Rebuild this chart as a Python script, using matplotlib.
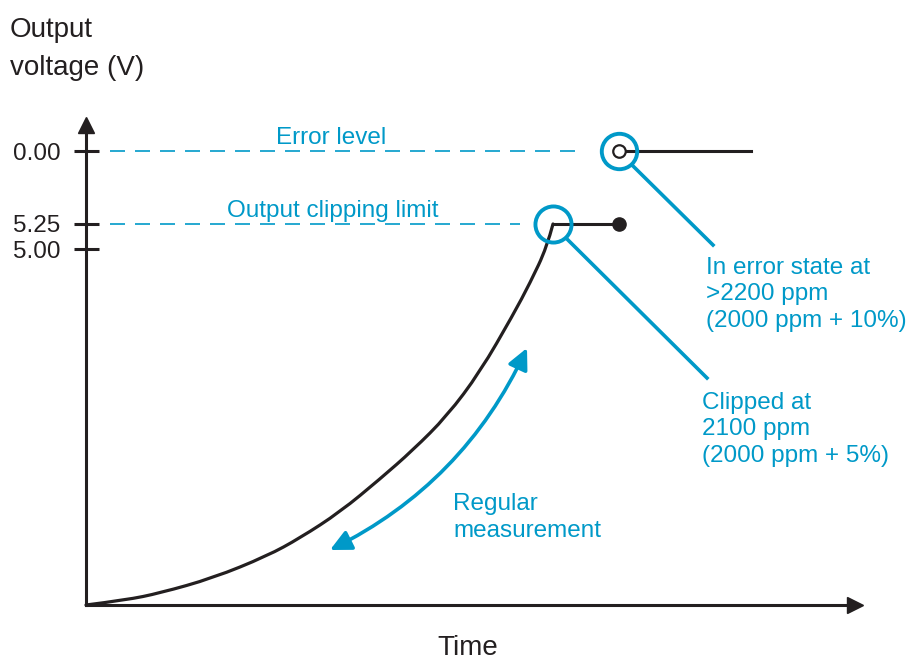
import matplotlib
matplotlib.use("Agg")
import matplotlib.pyplot as plt
from matplotlib.path import Path
from matplotlib.patches import PathPatch
import numpy as np

plt.rcParams['font.family'] = ['Liberation Sans', 'DejaVu Sans']

# ---- data (schematic drawing units) ----
time = [0, 40, 74, 127, 181, 214, 254, 294, 327, 361, 394, 427, 444, 461, 467]
signal = [0, 5, 12, 27, 49, 67, 93, 126, 155, 189, 233, 290, 322, 358, 381]

error_level = 454
clip_level = 381
tick_positions = [454, 381, 356]
tick_labels = ["0.00", "5.25", "5.00"]

clip_end_time = 533
error_start_time = 533
error_end_time = 665

BLACK = "#231F20"
BLUE = "#0099C8"

fig = plt.figure(figsize=(9.2, 6.6), dpi=100)
ax = fig.add_axes([0, 0, 1, 1])
ax.set_xlim(-86, 834)
ax.set_ylim(-55, 605)
ax.set_facecolor("white")

# axes as arrows
for s in ["top", "right"]:
    ax.spines[s].set_visible(False)
ax.spines["left"].set_position(("data", 0))
ax.spines["bottom"].set_position(("data", 0))
ax.spines["left"].set_bounds(0, 478)
ax.spines["bottom"].set_bounds(0, 766)
for s in ["left", "bottom"]:
    ax.spines[s].set_linewidth(2.2)
    ax.spines[s].set_color(BLACK)
ax.plot([0], [480], marker="^", markersize=11.5, color=BLACK, clip_on=False)
ax.plot([769], [0], marker=">", markersize=11.5, color=BLACK, clip_on=False)

ax.set_xticks([])
ax.set_yticks(tick_positions)
ax.set_yticklabels(tick_labels)
ax.tick_params(axis="y", direction="inout", length=18, width=2.2, color=BLACK,
               pad=9.5, labelsize=17.5, labelcolor=BLACK)

# response curve (smooth path using the read points as controls)
pts = np.column_stack([time, signal]).astype(float)
verts = [tuple(pts[0])]
codes = [Path.MOVETO]
for i in range(1, len(pts) - 1):
    mid = (pts[i] + pts[i + 1]) / 2
    if i == len(pts) - 2:
        mid = pts[i + 1]
    verts += [tuple(pts[i]), tuple(mid)]
    codes += [Path.CURVE3, Path.CURVE3]
ax.add_patch(PathPatch(Path(verts, codes), facecolor="none", edgecolor=BLACK,
                       lw=2.3, capstyle="round", joinstyle="round"))

# clipped segment
ax.plot([time[-1], clip_end_time], [clip_level, clip_level], color=BLACK, lw=2.2)
ax.plot([clip_end_time], [clip_level], "o", color=BLACK, markersize=9.5)

# error segment
ax.plot([error_start_time, error_end_time], [error_level, error_level], color=BLACK, lw=2.2)
ax.plot([error_start_time], [error_level], "o", markerfacecolor="white",
        markeredgecolor=BLACK, markersize=9.0, markeredgewidth=1.6)

# dashed reference lines
ax.plot([24, 499], [error_level, error_level], color=BLUE, lw=1.2, dashes=(9, 6))
ax.plot([24, 434], [clip_level, clip_level], color=BLUE, lw=1.2, dashes=(9, 6))
ax.text(245, 461, "Error level", color=BLUE, fontsize=17.5, ha="center", va="baseline")
ax.text(247, 388, "Output clipping limit", color=BLUE, fontsize=17.5, ha="center", va="baseline")

# highlight circles + leaders
ax.plot([error_start_time], [error_level], "o", markerfacecolor="none",
        markeredgecolor=BLUE, markersize=25.5, markeredgewidth=2.8)
ax.plot([time[-1]], [clip_level], "o", markerfacecolor="none",
        markeredgecolor=BLUE, markersize=26, markeredgewidth=2.8)
ax.plot([547, 627], [439, 360], color=BLUE, lw=2.6)
ax.plot([482, 621], [365, 227], color=BLUE, lw=2.6)

ax.text(620, 278, "In error state at\n>2200 ppm\n(2000 ppm + 10%)", color=BLUE,
        fontsize=17.5, ha="left", va="baseline", linespacing=1.27)
ax.text(616, 143, "Clipped at\n2100 ppm\n(2000 ppm + 5%)", color=BLUE,
        fontsize=17.5, ha="left", va="baseline", linespacing=1.27)

# regular measurement arrow
ax.annotate("", xy=(441, 257), xytext=(244, 55),
            arrowprops=dict(arrowstyle="<|-|>,head_length=0.45,head_width=0.22",
                            connectionstyle="arc3,rad=0.175", color=BLUE, lw=2.6,
                            mutation_scale=28, shrinkA=0, shrinkB=0))
ax.text(367, 68, "Regular\nmeasurement", color=BLUE, fontsize=17.5,
        ha="left", va="baseline", linespacing=1.27)

# axis titles
ax.text(-76, 530, "Output\nvoltage (V)", color=BLACK, fontsize=20,
        ha="left", va="baseline", linespacing=1.6)
ax.text(382, -50, "Time", color=BLACK, fontsize=20, ha="center", va="baseline")

fig.savefig("out.png", dpi=100, facecolor="white")
